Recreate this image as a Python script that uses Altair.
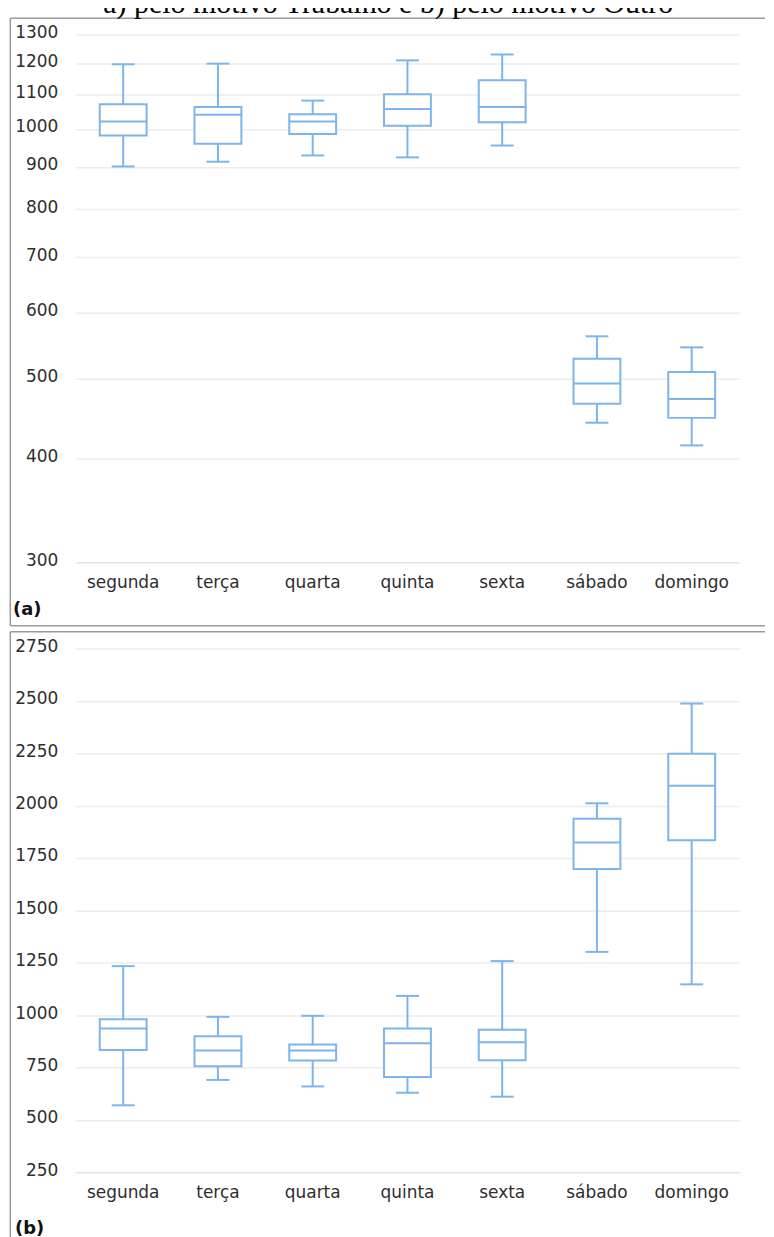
import altair as alt
import pandas as pd

days = ["segunda", "terça", "quarta", "quinta", "sexta", "sábado", "domingo"]

# (a) motivo Trabalho
a_low = [901, 913, 929, 924, 955, 442, 415]
a_q1 = [982, 960, 986, 1009, 1019, 466, 448]
a_med = [1021, 1040, 1021, 1057, 1063, 493, 472]
a_q3 = [1071, 1063, 1042, 1101, 1145, 528, 509]
a_high = [1197, 1199, 1082, 1210, 1230, 562, 545]
a_ticks = [300, 400, 500, 600, 700, 800, 900, 1000, 1100, 1200, 1300]

# (b) motivo Outro
b_low = [570, 691, 660, 630, 611, 1302, 1147]
b_q1 = [834, 756, 784, 705, 785, 1698, 1835]
b_med = [936, 831, 831, 866, 871, 1824, 2095]
b_q3 = [981, 900, 860, 936, 930, 1937, 2247]
b_high = [1234, 992, 997, 1092, 1258, 2011, 2487]
b_ticks = [250, 500, 750, 1000, 1250, 1500, 1750, 2000, 2250, 2500, 2750]

title_text = "– a) pelo motivo Trabalho e b) pelo motivo Outro"

C = "#7cb5ec"
FONT = "DejaVu Sans"
LABEL_COLOR = "#2e2e2e"
FRAME = "#9a9a9a"
W = 665


def panel(low, q1, med, q3, high, yscale, ticks, height, label, label_x, label_y,
          frame_top, frame_bottom, with_bottom_line, title=False):
    df = pd.DataFrame(dict(day=days, low=low, q1=q1, med=med, q3=q3, high=high))
    base = alt.Chart(df)
    x_axis = alt.Axis(title=None, labelAngle=0, ticks=False, tickSize=0, domain=True,
                      domainColor="#dfe5f0", domainWidth=1.5, grid=False,
                      labelFont=FONT, labelFontSize=17, labelColor=LABEL_COLOR,
                      labelPadding=25, labelBaseline="alphabetic")
    y_axis = alt.Axis(title=None, values=ticks, format="d", grid=True, gridColor="#ececec",
                      gridWidth=1.5, ticks=False, tickSize=0, domain=False, labelPadding=18,
                      labelFont=FONT, labelFontSize=17, labelColor=LABEL_COLOR,
                      labelOffset=-2)
    x = alt.X("day:N", sort=days, scale=alt.Scale(paddingInner=0, paddingOuter=0), axis=x_axis)

    def Y(f):
        return alt.Y(f, type="quantitative", scale=yscale, axis=y_axis)

    whisk = base.mark_rule(color=C, strokeWidth=2).encode(x=x, y=Y("low"), y2="high:Q")
    cap_lo = base.mark_tick(color=C, size=23, thickness=2, opacity=1).encode(x=x, y=Y("low"))
    cap_hi = base.mark_tick(color=C, size=23, thickness=2, opacity=1).encode(x=x, y=Y("high"))
    box = base.mark_bar(fill="white", stroke=C, strokeWidth=2, size=47, opacity=1).encode(
        x=x, y=Y("q1"), y2="q3:Q")
    med_t = base.mark_tick(color=C, size=47, thickness=2, opacity=1).encode(x=x, y=Y("med"))

    deco_df = pd.DataFrame({"k": [0]})
    deco = alt.Chart(deco_df)
    xl = -65.7
    xr = 691
    layers = [whisk, cap_lo, cap_hi, box, med_t]
    layers.append(deco.mark_rule(color=FRAME, strokeWidth=1.5).encode(
        x=alt.value(xl), y=alt.value(frame_top), y2=alt.value(frame_bottom)))
    layers.append(deco.mark_rule(color=FRAME, strokeWidth=1.5).encode(
        x=alt.value(xl), x2=alt.value(xr), y=alt.value(frame_top)))
    if with_bottom_line:
        layers.append(deco.mark_rule(color=FRAME, strokeWidth=1.5).encode(
            x=alt.value(xl), x2=alt.value(xr), y=alt.value(frame_bottom)))
    layers.append(deco.mark_text(text=label, font=FONT, fontWeight="bold", fontSize=18,
                                 color="#111111", align="left", baseline="middle").encode(
        x=alt.value(label_x), y=alt.value(label_y)))
    if title:
        layers.append(deco.mark_text(text=title_text, font="Liberation Serif", fontSize=30,
                                     color="#000000", align="center", baseline="alphabetic").encode(
            x=alt.value(302), y=alt.value(-21.5)))
    return alt.layer(*layers).properties(width=W, height=height)


top = panel(a_low, a_q1, a_med, a_q3, a_high,
            alt.Scale(type="log", domain=[300, 1300], nice=False), a_ticks, 529,
            "(a)", -63, 577, -16.3, 592.7, True, title=True)
bottom = panel(b_low, b_q1, b_med, b_q3, b_high,
               alt.Scale(domain=[250, 2750], nice=False), b_ticks, 525.3,
               "(b)", -61, 582.3, -16.7, 590, False)

chart = alt.vconcat(top, bottom, spacing=3.5).properties(
    padding={"top": -21, "left": 1, "right": 0, "bottom": 0},
    background="white",
).configure_view(stroke=None)

chart.save("out.html", embed_options={"renderer": "svg", "actions": False})
